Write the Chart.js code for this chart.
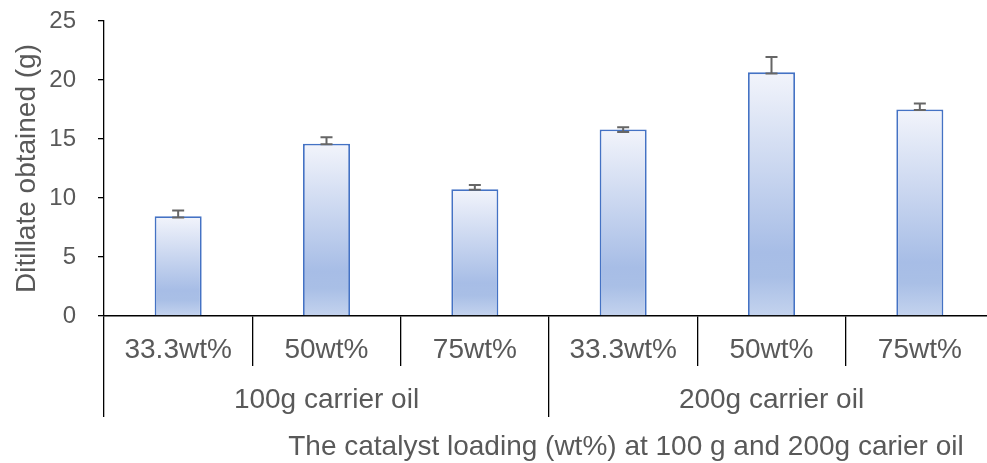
<!DOCTYPE html>
<html>
<head>
<meta charset="utf-8">
<script src="https://cdn.jsdelivr.net/npm/chart.js@4"></script>
<style>
html,body{margin:0;padding:0;background:#fff;overflow:hidden;}
#wrap{width:1000px;height:463px;}
</style>
</head>
<body>
<div id="wrap"><canvas id="c" width="1000" height="463"></canvas></div>
<script>
const categories = ['33.3wt%', '50wt%', '75wt%', '33.3wt%', '50wt%', '75wt%'];
const groups = ['100g carrier oil', '200g carrier oil'];
const values = [8.45, 14.6, 10.75, 15.8, 20.65, 17.5];
const errPlus = [0.5, 0.55, 0.35, 0.2, 1.3, 0.5];
const errMinus = [0.1, 0.05, 0.05, 0.2, 0.1, 0.05];
const yTicks = [0, 5, 10, 15, 20, 25];
const yTitle = 'Ditillate obtained (g)';
const xTitle = 'The catalyst loading (wt%) at 100 g and 200g carier oil';

const FONT = "'Liberation Sans', Arial, sans-serif";
const TXT = '#595959';

function barGradient(c) {
  const chart = c.chart;
  const ys = chart.scales && chart.scales.y;
  if (!chart.chartArea || !ys) return '#b4c7e7';
  const top = ys.getPixelForValue(values[c.dataIndex]);
  const bot = ys.getPixelForValue(0);
  const g = chart.ctx.createLinearGradient(0, top, 0, bot);
  g.addColorStop(0, '#f2f4fb');
  g.addColorStop(0.74, '#a7bde6');
  g.addColorStop(0.84, '#a9bfe6');
  g.addColorStop(1, '#c4d3ee');
  return g;
}

const errorBars = {
  id: 'errorBars',
  afterDatasetsDraw(chart) {
    const ctx = chart.ctx;
    const ys = chart.scales.y;
    const meta = chart.getDatasetMeta(0);
    ctx.save();
    ctx.strokeStyle = '#666666';
    ctx.lineWidth = 2;
    meta.data.forEach((el, i) => {
      const x = el.x;
      const y1 = ys.getPixelForValue(values[i] + errPlus[i]);
      const y2 = ys.getPixelForValue(values[i] - errMinus[i]);
      ctx.beginPath();
      ctx.moveTo(x, y1); ctx.lineTo(x, y2);
      ctx.moveTo(x - 6, y1); ctx.lineTo(x + 6, y1);
      ctx.moveTo(x - 6, y2); ctx.lineTo(x + 6, y2);
      ctx.stroke();
    });
    ctx.restore();
  }
};

const bottomTitle = {
  id: 'bottomTitle',
  afterDraw(chart) {
    const ctx = chart.ctx;
    const a = chart.chartArea;
    ctx.save();
    ctx.font = '28px ' + FONT;
    ctx.fillStyle = TXT;
    ctx.textAlign = 'center';
    ctx.textBaseline = 'middle';
    ctx.fillText(xTitle, a.left + (a.right - a.left) * 0.5865, 447);
    ctx.restore();
  }
};

new Chart(document.getElementById('c'), {
  type: 'bar',
  data: {
    labels: categories,
    datasets: [{
      data: values,
      xAxisID: 'x',
      yAxisID: 'y',
      backgroundColor: barGradient,
      borderColor: '#4472c4',
      borderWidth: 1.8,
      barPercentage: 0.317,
      categoryPercentage: 1
    }]
  },
  options: {
    responsive: false,
    animation: false,
    layout: { padding: { top: 21, right: 6, bottom: 46, left: 0 } },
    plugins: { legend: { display: false }, tooltip: { enabled: false } },
    scales: {
      x: {
        type: 'category',
        weight: 1,
        offset: true,
        grid: { offset: true, drawOnChartArea: false, tickLength: 50, color: '#000', lineWidth: 1.3 },
        border: { color: '#000', width: 1.5 },
        ticks: { padding: -33, font: { size: 28, family: FONT }, color: TXT, maxRotation: 0, autoSkip: false },
        afterFit(s) { s.height = 50; s.paddingLeft = 0; s.paddingRight = 0; }
      },
      x2: {
        type: 'category',
        position: 'bottom',
        weight: 2,
        labels: groups,
        offset: true,
        grid: { offset: true, drawOnChartArea: false, tickLength: 51, color: '#000', lineWidth: 1.3 },
        border: { display: false },
        ticks: { padding: -34, font: { size: 28, family: FONT }, color: TXT, maxRotation: 0, autoSkip: false },
        afterFit(s) { s.height = 51; s.paddingLeft = 0; s.paddingRight = 0; }
      },
      y: {
        min: 0,
        max: 25,
        afterBuildTicks(s) { s.ticks = yTicks.map(v => ({ value: v })); },
        grid: { drawOnChartArea: false, tickLength: 6, color: '#000', lineWidth: 1.3 },
        border: { color: '#000', width: 1.3 },
        ticks: { padding: 22, font: { size: 24, family: FONT }, color: TXT },
        title: { display: true, text: yTitle, font: { size: 28, family: FONT }, color: TXT, padding: { top: 10, bottom: 0 } },
        afterFit(s) { s.width = 104; s.paddingTop = 0; s.paddingBottom = 0; }
      }
    }
  },
  plugins: [errorBars, bottomTitle]
});
</script>
</body>
</html>
